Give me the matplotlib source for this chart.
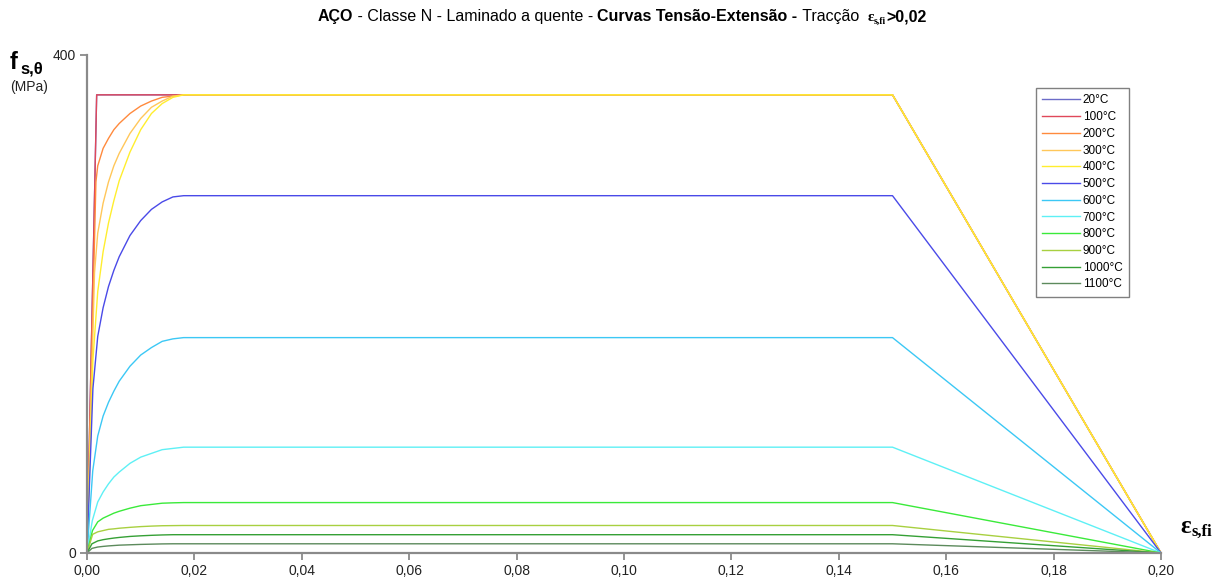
import numpy as np
import matplotlib
matplotlib.use('Agg')
import matplotlib.pyplot as plt

plt.rcParams['font.family'] = 'Liberation Sans'

#temperatures (legend labels)
labels = ['20°C', '100°C', '200°C', '300°C', '400°C', '500°C',
          '600°C', '700°C', '800°C', '900°C', '1000°C', '1100°C']
colors = ['#6c6cc8', '#e0485a', '#ff8a3d', '#ffc75a', '#ffee2e', '#4a4ae8',
          '#3cc8f5', '#5ef0f5', '#3aea3a', '#a8d040', '#35a035', '#5c8a5c']

#end of linear branch (strain, stress MPa)
eps_p = [0.0018, 0.0018, 0.00166, 0.0014, 0.0011, 0.0011,
         0.00107, 0.00099, 0.00102, 0.00105, 0.00092, 0.00092]
sig_p = [368, 368, 298, 225, 155, 132, 66, 26, 18, 15, 7.4, 3.7]

#common strain points after the linear branch
eps_pts = [0.002, 0.003, 0.004, 0.005, 0.006, 0.008, 0.010,
           0.012, 0.014, 0.016, 0.018, 0.15, 0.20]

#stress (MPa) read at eps_pts for each temperature
s20 = [368, 368, 368, 368, 368, 368, 368, 368, 368, 368, 368, 368, 0]
s100 = [368, 368, 368, 368, 368, 368, 368, 368, 368, 368, 368, 368, 0]
s200 = [311, 325, 333, 340, 345, 353, 359, 363, 366, 367, 368, 368, 0]
s300 = [257, 281, 298, 311, 321, 337, 349, 358, 363, 367, 368, 368, 0]
s400 = [210, 242, 265, 283, 299, 322, 340, 353, 361, 366, 368, 368, 0]
s500 = [174, 197, 214, 227, 238, 255, 267, 276, 282, 286, 287, 287, 0]
s600 = [94, 110, 121, 130, 138, 150, 159, 165, 170, 172, 173, 173, 0]
s700 = [41, 49, 55.5, 61, 65, 72, 77, 80, 83, 84, 85, 85, 0]
s800 = [25, 28, 30, 32, 33.5, 36, 38, 39, 40, 40.3, 40.5, 40.5, 0]
s900 = [17, 18, 19, 19.4, 19.9, 20.6, 21.2, 21.6, 21.9, 22, 22.1, 22.1, 0]
s1000 = [9.7, 10.7, 11.4, 12, 12.5, 13.3, 13.8, 14.2, 14.5, 14.7, 14.7, 14.7, 0]
s1100 = [4.8, 5.3, 5.7, 6, 6.3, 6.6, 6.9, 7.1, 7.3, 7.4, 7.4, 7.4, 0]
stresses = [s20, s100, s200, s300, s400, s500, s600, s700, s800, s900, s1000, s1100]

xticks = [0.0, 0.02, 0.04, 0.06, 0.08, 0.10, 0.12, 0.14, 0.16, 0.18, 0.20]

W, H = 1216, 581
fig = plt.figure(figsize=(W/100, H/100), dpi=100)
ax = fig.add_axes([87/W, 28/H, 1074/W, 498/H])

for i in range(len(labels)):
    x = [0.0, eps_p[i]] + eps_pts
    y = [0.0, sig_p[i]] + stresses[i]
    ax.plot(x, y, color=colors[i], lw=1.0, label=labels[i], clip_on=False,
            solid_joinstyle='round')

ax.set_xlim(0, 0.20)
ax.set_ylim(0, 400)
ax.set_xticks(xticks)
ax.set_xticklabels([('%.2f' % v).replace('.', ',') for v in xticks])
ax.set_yticks([0, 400])
ax.set_yticklabels(['0', '400'])
ax.tick_params(direction='out', length=5, width=1.2, color='#808080',
               labelsize=10, labelcolor='#222222', pad=3)
for s in ['top', 'right']:
    ax.spines[s].set_visible(False)
for s in ['left', 'bottom']:
    ax.spines[s].set_color('#8a8a8a')
    ax.spines[s].set_linewidth(1.6)

leg = ax.legend(loc='upper left', bbox_to_anchor=(1036/W, 1-88/H),
                bbox_transform=fig.transFigure, fontsize=8.5, frameon=True,
                fancybox=False, framealpha=1, edgecolor='#808080',
                handlelength=3.2, handletextpad=0.2, labelspacing=0.4,
                borderpad=0.55, borderaxespad=0)
leg.get_frame().set_linewidth(1.0)

#y axis label: f with subscript s,theta
fig.text(10/W, 1-69/H, 'f', fontsize=17, weight='bold', ha='left', va='baseline')
fig.text(20/W, 1-73/H, 's,θ', fontsize=12, weight='bold', ha='left', va='baseline')
fig.text(29/W, 1-87/H, '(MPa)', fontsize=10, ha='center', va='center',
         color='#222222')

#x axis label: epsilon s,fi
fig.text(1180/W, 1-533/H, 'ε', fontsize=18, weight='bold', family='Liberation Serif',
         ha='left', va='baseline')
fig.text(1191/W, 1-536/H, 's,fi', fontsize=12, weight='bold', family='Liberation Serif',
         ha='left', va='baseline')

#title in pieces (mixed weights)
pieces = [('AÇO', dict(weight='bold')),
          (' - Classe N - Laminado a quente - ', dict()),
          ('Curvas Tensão-Extensão -', dict(weight='bold')),
          (' Tracção  ', dict()),
          ('ε', dict(weight='bold', family='Liberation Serif', fontsize=11)),
          ('s,fi', dict(weight='bold', family='Liberation Serif', fontsize=7, dy=3)),
          ('>0,02', dict(weight='bold'))]
renderer = fig.canvas.get_renderer()
texts = []
shifts = []
for s, kw in pieces:
    kw = dict(kw)
    shifts.append(kw.pop('dy', 0))
    kw.setdefault('fontsize', 11.5)
    t = fig.text(0, 0, s, ha='left', va='baseline', **kw)
    texts.append(t)
widths = [t.get_window_extent(renderer).width for t in texts]
x0 = 622 - sum(widths)/2
yb = 21
for t, w, d in zip(texts, widths, shifts):
    t.set_position((x0/W, 1-(yb+d)/H))
    x0 += w

fig.savefig('out.png', dpi=100)
